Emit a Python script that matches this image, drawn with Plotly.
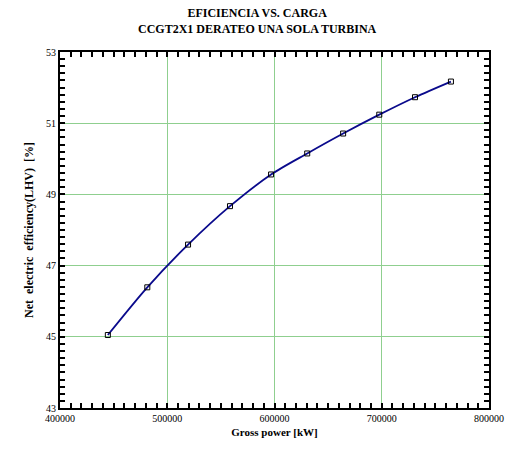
import plotly.graph_objects as go

gross_power_kw = [444600, 481400, 519400, 558500, 596800, 630500, 664000, 697700, 731000, 764500]
net_efficiency = [45.05, 46.39, 47.59, 48.67, 49.56, 50.15, 50.71, 51.24, 51.73, 52.17]

x_range = [400000, 800000]
y_range = [43, 53]

serif = "Liberation Serif"

fig = go.Figure()
fig.add_trace(go.Scatter(
    x=gross_power_kw, y=net_efficiency,
    mode="lines+markers",
    line=dict(color="#0a0a8c", width=1.8, shape="spline", smoothing=0.8),
    marker=dict(symbol="square-open", size=5, color="black", line=dict(width=1, color="black")),
    showlegend=False,
))

axis_common = dict(
    showline=True, linecolor="black", linewidth=2, mirror="allticks",
    ticks="inside", ticklen=5, tickcolor="black", tickwidth=1.5,
    showgrid=True, gridcolor="#8fcf8f", gridwidth=1,
    zeroline=False,
    tickfont=dict(family=serif, size=10, color="black"),
)

fig.update_xaxes(
    range=x_range, dtick=100000, tickformat="d",
    minor=dict(dtick=10000, ticks="inside", ticklen=5, tickcolor="black", tickwidth=1.5),
    title=dict(text="<b>Gross power [kW]</b>", font=dict(family=serif, size=11, color="black"), standoff=5),
    **axis_common,
)
fig.update_yaxes(
    range=y_range, tick0=43, dtick=2,
    minor=dict(dtick=0.2, ticks="inside", ticklen=5, tickcolor="black", tickwidth=1.5),
    title=dict(text="<b>Net  electric  efficiency(LHV)  [%]</b>", font=dict(family=serif, size=12, color="black"), standoff=10),
    **axis_common,
)

fig.add_annotation(
    text="<b>EFICIENCIA VS. CARGA<br>CCGT2X1 DERATEO UNA SOLA TURBINA</b>",
    xref="paper", yref="paper", x=0.46, y=1 + 49 / 364, xanchor="center", yanchor="top",
    showarrow=False, align="center",
    font=dict(family=serif, size=12, color="black"),
)

fig.update_layout(
    width=516, height=449,
    margin=dict(l=60, r=17, t=52, b=33),
    paper_bgcolor="white", plot_bgcolor="white",
)

fig.write_html("out.html", config={"displayModeBar": False},
               post_script="document.body.style.margin='0';document.body.style.overflow='hidden';")
